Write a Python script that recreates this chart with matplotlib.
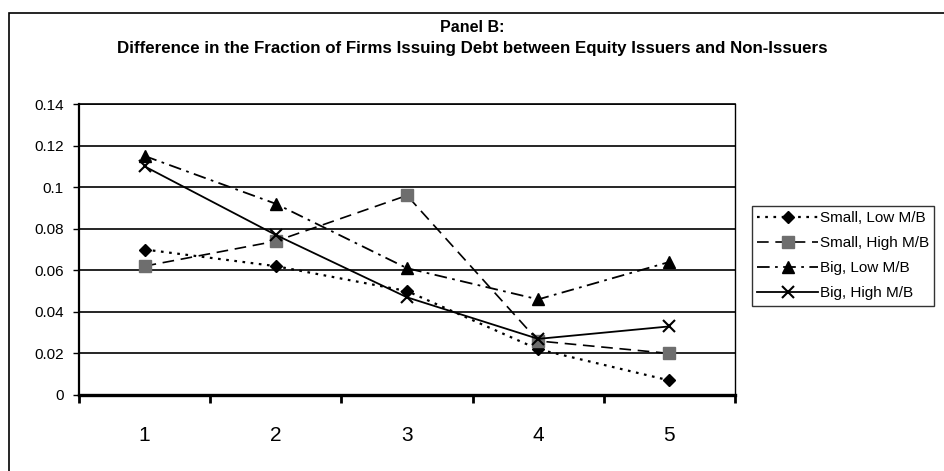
import matplotlib
matplotlib.use("Agg")
import matplotlib.pyplot as plt
from matplotlib.patches import Rectangle

plt.rcParams['font.family'] = ['Liberation Sans', 'DejaVu Sans']

categories = ['1', '2', '3', '4', '5']
small_low = [0.070, 0.062, 0.050, 0.022, 0.007]
small_high = [0.062, 0.074, 0.096, 0.026, 0.020]
big_low = [0.115, 0.092, 0.061, 0.046, 0.064]
big_high = [0.110, 0.077, 0.047, 0.027, 0.033]
series_names = ['Small, Low M/B', 'Small, High M/B', 'Big, Low M/B', 'Big, High M/B']
yticks = [0, 0.02, 0.04, 0.06, 0.08, 0.1, 0.12, 0.14]
ytick_labels = ['0', '0.02', '0.04', '0.06', '0.08', '0.1', '0.12', '0.14']

W, H = 944, 471
fig = plt.figure(figsize=(W / 100, H / 100), dpi=100)

# outer chart border (cut off at right and bottom in the original)
fig.patches.append(Rectangle((9 / W, -0.2), 1.2, 1.2 - 13 / H,
                             transform=fig.transFigure, fill=False,
                             edgecolor='black', linewidth=1.2))

fig.text(0.5, 1 - 28 / H, 'Panel B:', ha='center', va='center',
         fontsize=11.5, fontweight='bold')
fig.text(0.5, 1 - 48 / H,
         'Difference in the Fraction of Firms Issuing Debt between Equity Issuers and Non-Issuers',
         ha='center', va='center', fontsize=12.2, fontweight='bold')

ax = fig.add_axes([79 / W, 1 - 395 / H, (735 - 79) / W, (395 - 104) / H])
x = range(len(categories))

ax.plot(x, small_low, color='black', linestyle=(0, (1.2, 2.5)), linewidth=1.6,
        marker='D', markersize=6, label=series_names[0])
ax.plot(x, small_high, color='black', linestyle=(0, (7, 4)), linewidth=1.2,
        marker='s', markersize=8, markerfacecolor='#6e6e6e', markeredgecolor='#6e6e6e',
        label=series_names[1])
ax.plot(x, big_low, color='black', linestyle=(0, (7, 3, 1.5, 3)), linewidth=1.3,
        marker='^', markersize=8, label=series_names[2])
ax.plot(x, big_high, color='black', linestyle='-', linewidth=1.3,
        marker='x', markersize=9, markeredgewidth=1.5, label=series_names[3])

ax.set_xlim(-0.5, len(categories) - 0.5)
ax.set_ylim(0, 0.14)
ax.set_yticks(yticks)
ax.set_yticklabels(ytick_labels)
ax.yaxis.grid(True, color='black', linewidth=1.2)
ax.set_axisbelow(True)

ax.set_xticks([i - 0.5 for i in range(len(categories) + 1)])
ax.set_xticklabels([])
ax.set_xticks(list(x), minor=True)
ax.set_xticklabels(categories, minor=True)
ax.tick_params(axis='x', which='major', direction='out', length=6, width=2)
ax.tick_params(axis='x', which='minor', length=0, pad=22, labelsize=15)
ax.tick_params(axis='y', direction='out', length=4, width=1, pad=7, labelsize=11)

ax.spines['bottom'].set_linewidth(2.4)
ax.spines['left'].set_linewidth(1.6)
ax.spines['right'].set_linewidth(1.0)
ax.spines['top'].set_linewidth(1.2)

leg = fig.legend(loc='upper left', bbox_to_anchor=(752 / W, 1 - 206 / H),
                 bbox_transform=fig.transFigure, fontsize=11, frameon=True,
                 fancybox=False, edgecolor='black', handlelength=4.0,
                 handletextpad=0.1, labelspacing=0.72, borderpad=0.35,
                 borderaxespad=0)
leg.get_frame().set_linewidth(1.0)

fig.savefig('out.png', dpi=100)
